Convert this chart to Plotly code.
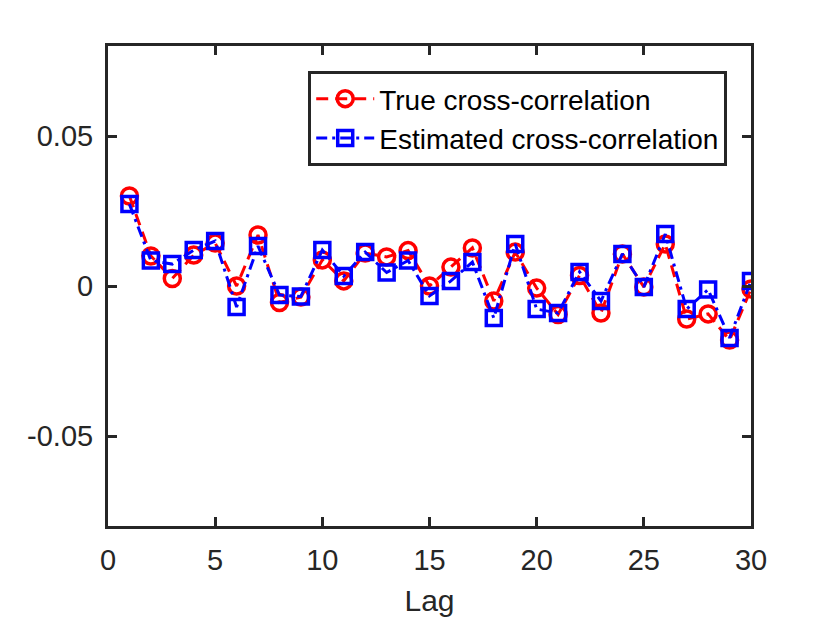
import plotly.graph_objects as go

lags = list(range(1, 31))

true_xcorr = [0.0300, 0.0100, 0.0025, 0.0103, 0.0143, 0.0000, 0.0170, -0.0055, -0.0037, 0.0087,
              0.0017, 0.0110, 0.0097, 0.0118, 0.0000, 0.0063, 0.0127, -0.0050, 0.0113, -0.0007,
              -0.0095, 0.0035, -0.0090, 0.0107, -0.0003, 0.0140, -0.0110, -0.0093, -0.0180, -0.0010]

est_xcorr = [0.0273, 0.0085, 0.0073, 0.0120, 0.0150, -0.0070, 0.0133, -0.0030, -0.0035, 0.0120,
             0.0033, 0.0113, 0.0045, 0.0085, -0.0033, 0.0017, 0.0080, -0.0107, 0.0140, -0.0077,
             -0.0090, 0.0047, -0.0050, 0.0107, -0.0003, 0.0173, -0.0077, -0.0012, -0.0173, 0.0017]

x_ticks = [0, 5, 10, 15, 20, 25, 30]
y_ticks = [-0.05, 0, 0.05]
y_labels = ["-0.05", "0", "0.05"]

axis_col = "#262626"
font = "Liberation Sans, Arial, sans-serif"

fig = go.Figure()

fig.add_trace(go.Scatter(
    x=lags, y=true_xcorr, mode="lines+markers",
    name="True cross-correlation",
    line=dict(color="#ff0000", width=3, dash="12px,7px"),
    marker=dict(symbol="circle-open", size=16, color="#ff0000", line=dict(width=3.5, color="#ff0000")),
))

fig.add_trace(go.Scatter(
    x=lags, y=est_xcorr, mode="lines+markers",
    name="Estimated cross-correlation",
    line=dict(color="#0000ff", width=3, dash="11px,5px,3px,5px"),
    marker=dict(symbol="square-open", size=15, color="#0000ff", line=dict(width=3.5, color="#0000ff")),
))

# page body has an 8px margin, so margins are shifted to keep the box in place
fig.update_layout(
    width=830, height=623,
    margin=dict(l=100, r=87, t=38, b=105),
    paper_bgcolor="white", plot_bgcolor="white",
    font=dict(family=font, size=29, color=axis_col),
    legend=dict(
        x=0.963, y=0.948, xanchor="right", yanchor="top",
        bordercolor=axis_col, borderwidth=3, bgcolor="white",
        font=dict(size=28, color="black"),
        tracegroupgap=0, itemwidth=58,
    ),
    showlegend=True,
)

fig.update_xaxes(
    range=[0, 30], tickvals=x_ticks, showgrid=False, zeroline=False,
    showline=True, linewidth=3, linecolor=axis_col, mirror="ticks",
    ticks="inside", ticklen=9, tickwidth=3, tickcolor=axis_col,
    ticklabelstandoff=6,
    title=dict(text="Lag", font=dict(size=30, color=axis_col), standoff=16),
)

fig.update_yaxes(
    range=[-0.08, 0.08], tickvals=y_ticks, ticktext=y_labels, showgrid=False, zeroline=False,
    showline=True, linewidth=3, linecolor=axis_col, mirror="ticks",
    ticks="inside", ticklen=9, tickwidth=3, tickcolor=axis_col,
    ticklabelstandoff=6,
)

fig.write_html("out.html")
